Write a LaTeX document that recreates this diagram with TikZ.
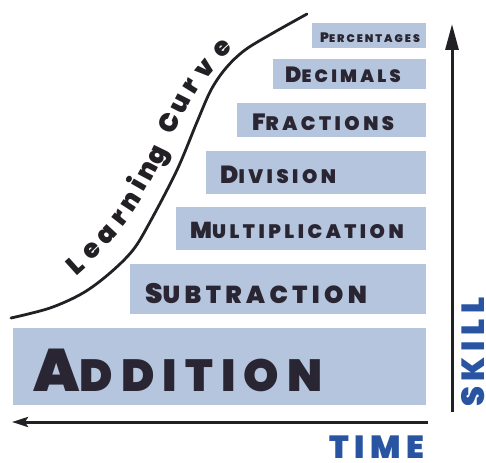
\documentclass[tikz,border=0pt]{standalone}
\usepackage{fontspec}
\usetikzlibrary{arrows.meta}

\newfontfamily\stepfont[LetterSpace=18.0]{Poppins Black}
\newfontfamily\curvefont{Poppins Black}

\definecolor{stepblue}{RGB}{180,197,221}
\definecolor{steptext}{RGB}{42,37,50}
\definecolor{axisblue}{RGB}{40,84,162}
\definecolor{inkgray}{RGB}{34,32,36}

% big first letter, smaller capitals after it
\newcommand{\stepname}[4]{{\fontsize{#1}{#1}\selectfont #3}{\fontsize{#2}{#2}\selectfont #4}}

\begin{document}
\begin{tikzpicture}[x=1pt, y=-1pt,
    stepbox/.style={fill=stepblue, anchor=north west, inner xsep=0pt, inner ysep=0pt,
      text depth=0pt, align=left, text=steptext, font=\stepfont},
    axis/.style={draw=inkgray, line width=3pt},
    axislabel/.style={text=axisblue, inner sep=0pt, font=\stepfont\fontsize{32}{32}\selectfont},
    curve/.style={draw=inkgray, line width=2.8pt, line cap=round},
    curvetext/.style={text=inkgray, inner sep=0pt, text height=9pt, text depth=0pt,
      font=\curvefont\fontsize{26}{26}\selectfont}]
  \useasboundingbox (0,0) rectangle (486,462);

  % the steps, one box each (text height pushes the words a little low)
  \node[stepbox, text width=114, minimum height=25, text height=14.6pt] (perc) at (312,23)
    {\hspace*{8pt}\stepname{13.7}{11}{P}{ERCENTAGES}};
  \node[stepbox, text width=153, minimum height=30, text height=17.4pt] (dec) at (273,59)
    {\hspace*{12pt}\stepname{22}{17.8}{D}{ECIMALS}};
  \node[stepbox, text width=189, minimum height=34, text height=21.5pt] (frac) at (237,103)
    {\hspace*{15pt}\stepname{23.5}{19.5}{F}{RACTIONS}};
  \node[stepbox, text width=220, minimum height=43, text height=22.3pt] (div) at (206,151)
    {\hspace*{14pt}\stepname{24.7}{19.5}{D}{IVISION}};
  \node[stepbox, text width=250, minimum height=43, text height=20.1pt] (mult) at (176,207)
    {\hspace*{14pt}\stepname{23}{19.5}{M}{ULTIPLICATION}};
  \node[stepbox, text width=296, minimum height=50, text height=27.6pt] (sub) at (130,264)
    {\hspace*{15pt}\stepname{28}{24.5}{S}{UBTRACTION}};
  \node[stepbox, text width=413, minimum height=77, text height=50pt] (add) at (13,328)
    {\hspace*{20pt}\stepname{60}{45}{A}{DDITION}};

  % time and skill axes
  \coordinate (t0) at (428,422);
  \coordinate (t1) at (12,422);
  \draw[axis, -{Stealth[length=16pt, width=10pt, inset=3pt]}] (t0) -- (t1);
  \node[axislabel] (time) at (377,447) {TIME};

  \coordinate (s0) at (452,412);
  \coordinate (s1) at (452,24);
  \draw[axis, -{Triangle[length=26pt, width=13pt]}] (s0) -- (s1);
  \node[axislabel, rotate=90] (skill) at (473,352) {SKILL};

  % the learning curve
  \draw[curve] plot[smooth, tension=0.55] coordinates {(11,318) (50,308) (83,293) (110,273)
    (133,250) (150,222) (177,170) (197,122) (211,90) (226,68) (245,50) (273,33) (307,14)};

  % its label, letter by letter
  \foreach \c/\x/\y/\a [count=\i] in {L/78/269/42, e/94/253/44, a/109/237/47, r/123/220/52,
      n/134/203/57, i/142/187/60, n/151/172/62, g/160/157/64,
      C/173/125/66, u/184/105/63, r/194/88/58, v/208/71/50, e/224/51/42}
    \node[curvetext, rotate=\a] (lc\i) at (\x,\y) {\c};
\end{tikzpicture}
\end{document}
